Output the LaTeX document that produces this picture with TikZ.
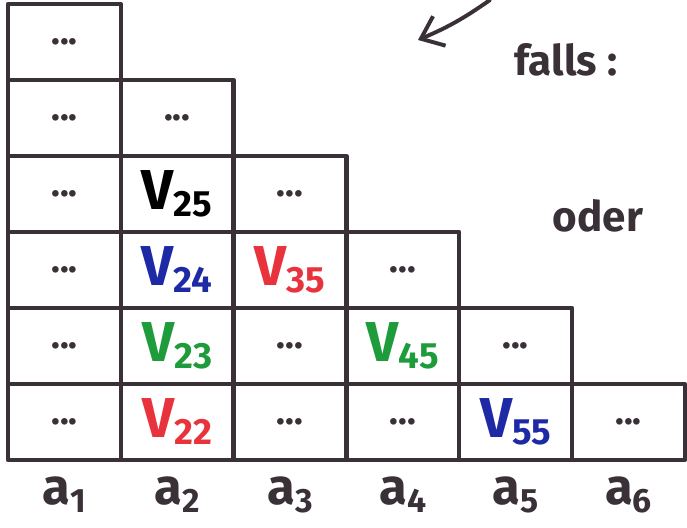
\documentclass[tikz,border=0pt]{standalone}
\usepackage{fontspec}
\setmainfont{Fira Sans}
\usepackage{xcolor}
\usetikzlibrary{arrows.meta,positioning}

\definecolor{ink}{HTML}{3A3037}
\definecolor{pred}{HTML}{E8323C}
\definecolor{pblue}{HTML}{1E2AA5}
\definecolor{pgreen}{HTML}{1E9B3A}

\newcommand{\vlab}[1]{{\fontsize{40}{44}\selectfont V}\raisebox{-5pt}{\fontsize{26}{30}\selectfont #1}}
\newcommand{\alab}[1]{{\fontsize{36}{40}\selectfont a}\raisebox{-6pt}{\fontsize{24}{28}\selectfont #1}}

\begin{document}
\begin{tikzpicture}[>=latex,line join=round,
   cell/.style={rectangle,draw=ink,line width=3pt,minimum width=2.82cm,minimum height=1.9cm,inner sep=0pt},
   dotsl/.style={font=\fontsize{26}{28}\selectfont\bfseries,text=ink},
   sym/.style={inner sep=0pt,font=\bfseries},
   hand/.style={font=\fontsize{30}{34}\selectfont\bfseries,text=ink}]
  \useasboundingbox (-0.2,-1.7) rectangle (16.975,11.5);
  % the triangle of cells
  \foreach \c in {1,...,6}{
    \pgfmathtruncatemacro{\nrows}{7-\c}
    \foreach \r in {1,...,\nrows}
      \node[cell] (c\c\r) at ({(\c-0.5)*2.82},{(\r-0.5)*1.9}) {};
  }
  \foreach \n in {c11,c12,c13,c14,c15,c16,c25,c31,c32,c34,c41,c43,c52,c61}
    \node[dotsl] (d-\n) at (\n) {...};
  \node[sym,text=pred]   (v22) at (c21) {\vlab{22}};
  \node[sym,text=pgreen] (v23) at (c22) {\vlab{23}};
  \node[sym,text=pblue]  (v24) at (c23) {\vlab{24}};
  \node[sym,text=black]  (v25) at (c24) {\vlab{25}};
  \node[sym,text=pred]   (v35) at (c33) {\vlab{35}};
  \node[sym,text=pgreen] (v45) at (c42) {\vlab{45}};
  \node[sym,text=pblue]  (v55) at (c51) {\vlab{55}};
  % word labels
  \foreach \c in {1,...,6}
    \node[sym,anchor=base,text=ink] (a\c) at ([yshift=-1.05cm]c\c1.south) {\alab{\c}};
  % side notes
  \coordinate (arrtail) at (12.05,11.5);
  \coordinate (arrhead) at (10.25,10.5);
  \draw[-{Straight Barb[length=5mm,width=8mm]},ink,line width=2.8pt,line cap=round] (arrtail) to[bend left=6] (arrhead);
  \node[hand] (falls) at (13.95,10.0) {falls :};
  \node[hand] (oder) at (14.75,6.1) {oder};
\end{tikzpicture}
\end{document}
